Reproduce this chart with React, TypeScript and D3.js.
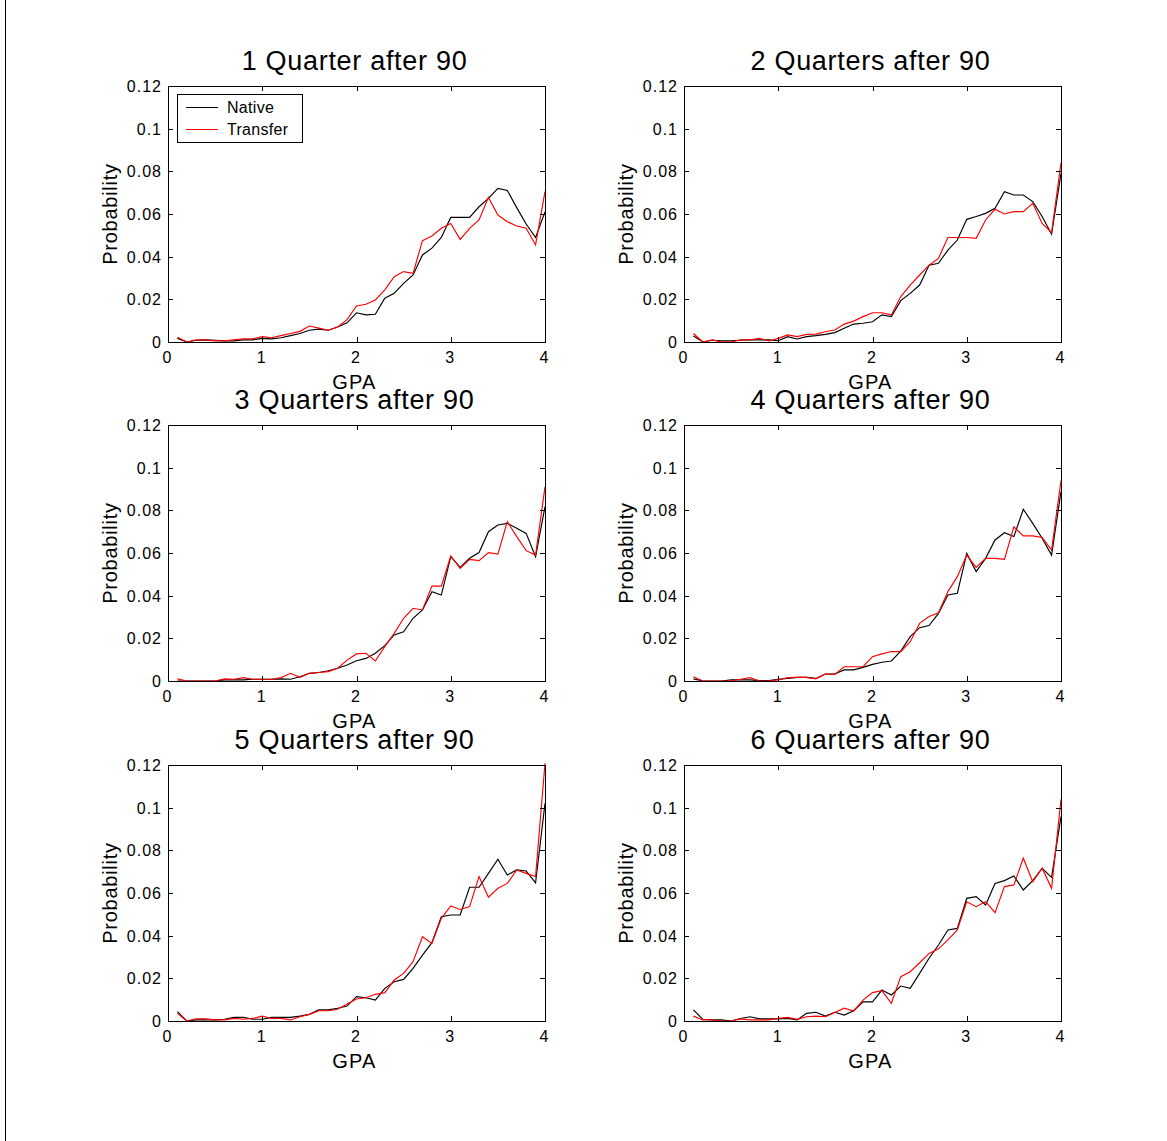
import React from "react";
import * as d3 from "d3";

const GPA = [0.1,0.2,0.3,0.4,0.5,0.6,0.7,0.8,0.9,1.0,1.1,1.2,1.3,1.4,1.5,1.6,1.7,1.8,1.9,2.0,2.1,2.2,2.3,2.4,2.5,2.6,2.7,2.8,2.9,3.0,3.1,3.2,3.3,3.4,3.5,3.6,3.7,3.8,3.9,4.0];

const titles = ["1 Quarter after 90","2 Quarters after 90","3 Quarters after 90","4 Quarters after 90","5 Quarters after 90","6 Quarters after 90"];

const native1 = [0.0017,0,0.0008,0.001,0.0008,0.0005,0.0005,0.001,0.001,0.0017,0.0015,0.002,0.003,0.004,0.0055,0.006,0.0055,0.007,0.009,0.0137,0.0127,0.013,0.0205,0.0228,0.0275,0.0314,0.0408,0.044,0.049,0.0584,0.0584,0.0584,0.0634,0.0673,0.072,0.071,0.063,0.0553,0.049,0.061];
const transfer1 = [0.0022,0,0.001,0.001,0.0005,0.0005,0.001,0.0015,0.0015,0.0025,0.002,0.003,0.004,0.005,0.0075,0.0065,0.0055,0.007,0.0105,0.0169,0.0177,0.0197,0.0244,0.0306,0.033,0.0322,0.0475,0.0497,0.0533,0.0556,0.0481,0.0533,0.0572,0.0678,0.0595,0.0564,0.0544,0.0533,0.0455,0.0705];

const native2 = [0.0028,0,0.0008,0.0005,0.0005,0.0008,0.001,0.001,0.001,0.0006,0.0025,0.0014,0.0025,0.003,0.0036,0.0044,0.0064,0.0084,0.0088,0.0095,0.0127,0.0119,0.0194,0.0228,0.0267,0.036,0.0369,0.0431,0.0478,0.0575,0.0588,0.0603,0.0627,0.0705,0.0689,0.0689,0.0658,0.0588,0.0505,0.079];
const transfer2 = [0.004,0,0.001,0,0,0.001,0.001,0.0017,0.0005,0.0017,0.0033,0.0025,0.0036,0.0037,0.0048,0.0056,0.0084,0.0098,0.0119,0.0137,0.0137,0.0127,0.0213,0.0267,0.0314,0.036,0.0392,0.049,0.049,0.049,0.0486,0.0572,0.0622,0.06,0.0611,0.0611,0.065,0.0556,0.0513,0.084];

const native3 = [0,0,0,0,0,0.0005,0.0005,0.0005,0.0008,0.0008,0.0008,0.001,0.0008,0.002,0.0036,0.004,0.0048,0.006,0.0075,0.0095,0.0106,0.013,0.0166,0.0216,0.0231,0.0294,0.0333,0.0419,0.0403,0.0583,0.0533,0.0575,0.0602,0.07,0.0731,0.0739,0.0716,0.0692,0.0583,0.0817];
const transfer3 = [0.001,0,0,0,0,0.001,0.0008,0.0016,0.0008,0.0008,0.0008,0.0016,0.0036,0.0017,0.0036,0.004,0.0044,0.006,0.0098,0.0127,0.013,0.0094,0.0161,0.0223,0.0294,0.0341,0.0333,0.0445,0.0445,0.0586,0.0528,0.057,0.0564,0.0602,0.0595,0.0747,0.0677,0.0611,0.059,0.091];

const native4 = [0.001,0,0,0,0.0005,0.0005,0.0005,0.0002,0.0002,0.0008,0.0012,0.0017,0.0017,0.0012,0.0033,0.0033,0.0052,0.0052,0.0064,0.0078,0.0088,0.0094,0.014,0.0208,0.025,0.026,0.0317,0.0403,0.0411,0.0598,0.0513,0.0575,0.0661,0.0695,0.0677,0.0805,0.0739,0.0669,0.059,0.0888];
const transfer4 = [0.002,0,0,0,0,0.0008,0.0016,0,0,0.0005,0.0016,0.0017,0.0017,0.001,0.0033,0.0031,0.0067,0.0067,0.0067,0.0114,0.0127,0.0138,0.0138,0.0184,0.027,0.0302,0.032,0.0419,0.0489,0.059,0.0533,0.0575,0.0575,0.057,0.0723,0.068,0.068,0.0673,0.0614,0.094];

const native5 = [0.0044,0,0.0005,0.0005,0.0005,0.0008,0.0017,0.0017,0.0008,0.0008,0.0017,0.0017,0.0017,0.0023,0.0031,0.0052,0.0052,0.006,0.007,0.0114,0.0109,0.0098,0.0153,0.0184,0.0195,0.0247,0.0309,0.0367,0.0489,0.0497,0.0497,0.0627,0.0627,0.0692,0.0758,0.0684,0.0708,0.0703,0.0648,0.102];
const transfer5 = [0.0036,0,0.001,0.001,0.0005,0.0005,0.0012,0.0008,0.0012,0.0023,0.0012,0.0012,0.0005,0.002,0.0031,0.0048,0.0048,0.0055,0.008,0.0103,0.0109,0.0125,0.0133,0.0192,0.0223,0.0278,0.0395,0.0364,0.0481,0.0539,0.0523,0.0536,0.0677,0.058,0.0622,0.0645,0.0708,0.0692,0.0677,0.1208];

const native6 = [0.0052,0.0008,0.0005,0.0005,0,0.0012,0.002,0.001,0.001,0.001,0.0012,0.0005,0.0036,0.0041,0.0023,0.0041,0.0028,0.0048,0.009,0.009,0.0145,0.0122,0.0164,0.0153,0.0223,0.0294,0.0356,0.0427,0.0434,0.0575,0.0583,0.0544,0.0645,0.0658,0.068,0.0614,0.0658,0.0716,0.0673,0.0958];
const transfer6 = [0.0023,0.0005,0.0005,0,0,0.001,0.0005,0.0005,0.0005,0.0012,0.0017,0.0008,0.002,0.0023,0.002,0.004,0.006,0.0047,0.0098,0.0133,0.0142,0.0083,0.0208,0.0231,0.0273,0.0317,0.0338,0.038,0.0427,0.0559,0.0536,0.0559,0.0508,0.063,0.0638,0.0763,0.0653,0.0716,0.0622,0.1039];

const xTicks = [0, 1, 2, 3, 4];
const yTicks = [0, 0.02, 0.04, 0.06, 0.08, 0.1, 0.12];
const yTickLabels = ["0", "0.02", "0.04", "0.06", "0.08", "0.1", "0.12"];
const legendLabels = ["Native", "Transfer"];

const nativeSeries = [native1, native2, native3, native4, native5, native6];
const transferSeries = [transfer1, transfer2, transfer3, transfer4, transfer5, transfer6];

const FONT = "'Liberation Sans', Arial, Helvetica, sans-serif";
const colLeft = [168, 684];
const rowTop = [86, 425, 765];
const W = 377;
const H = 256;
const TICK = 5;

function Panel({ idx }: { idx: number }) {
  const left = colLeft[idx % 2];
  const top = rowTop[Math.floor(idx / 2)];
  const x = d3.scaleLinear().domain([0, 4]).range([left, left + W]);
  const y = d3.scaleLinear().domain([0, 0.12]).range([top + H, top]);
  const line = d3
    .line<number>()
    .x((_, i) => x(GPA[i]))
    .y((d) => y(d));
  const cx = left + W / 2 - 2;
  return (
    <g>
      <text x={cx} y={top - 16} textAnchor="middle" fontSize={27} letterSpacing={0.7} fontFamily={FONT} fill="#000">
        {titles[idx]}
      </text>
      <path d={line(nativeSeries[idx]) || ""} fill="none" stroke="#000" strokeWidth={1.15} />
      <path d={line(transferSeries[idx]) || ""} fill="none" stroke="#ff0000" strokeWidth={1.15} />
      <rect x={left + 0.5} y={top + 0.5} width={W} height={H} fill="none" stroke="#000" strokeWidth={1} />
      {xTicks.map((t) => (
        <g key={"x" + t}>
          <line x1={Math.round(x(t)) + 0.5} x2={Math.round(x(t)) + 0.5} y1={top + H} y2={top + H - TICK} stroke="#000" />
          <line x1={Math.round(x(t)) + 0.5} x2={Math.round(x(t)) + 0.5} y1={top} y2={top + TICK} stroke="#000" />
          <text x={x(t) - 1} y={top + H + 21} textAnchor="middle" fontSize={16} fontFamily={FONT} fill="#000">
            {t}
          </text>
        </g>
      ))}
      {yTicks.map((t, i) => (
        <g key={"y" + t}>
          <line x1={left} x2={left + TICK} y1={Math.round(y(t)) + 0.5} y2={Math.round(y(t)) + 0.5} stroke="#000" />
          <line x1={left + W} x2={left + W - TICK} y1={Math.round(y(t)) + 0.5} y2={Math.round(y(t)) + 0.5} stroke="#000" />
          <text x={left - 6} y={y(t) + 6} textAnchor="end" fontSize={16} letterSpacing={1} fontFamily={FONT} fill="#000">
            {yTickLabels[i]}
          </text>
        </g>
      ))}
      <text
        transform={`translate(${left - 51},${top + H / 2}) rotate(-90)`}
        textAnchor="middle"
        fontSize={20}
        letterSpacing={0.75}
        fontFamily={FONT}
        fill="#000"
      >
        Probability
      </text>
      <text x={cx} y={top + H + 47} textAnchor="middle" fontSize={20} letterSpacing={1.2} fontFamily={FONT} fill="#000">
        GPA
      </text>
      {idx === 0 && (
        <g>
          <rect x={177.5} y={94.5} width={125} height={48} fill="#fff" stroke="#000" />
          <line x1={186} x2={218} y1={107.5} y2={107.5} stroke="#000" />
          <line x1={186} x2={218} y1={129.5} y2={129.5} stroke="#ff0000" />
          <text x={227} y={113} fontSize={16} letterSpacing={0.3} fontFamily={FONT} fill="#000">{legendLabels[0]}</text>
          <text x={227} y={135} fontSize={16} letterSpacing={0.3} fontFamily={FONT} fill="#000">{legendLabels[1]}</text>
        </g>
      )}
    </g>
  );
}

export default function App() {
  return (
    <div style={{ position: "absolute", left: 0, top: 0 }}>
      <svg width={1167} height={1141} style={{ display: "block", background: "#fff" }}>
        <rect x={0} y={0} width={1167} height={1141} fill="#fff" />
        <line x1={5.5} x2={5.5} y1={0} y2={1141} stroke="#000" />
        {titles.map((_, i) => (
          <Panel key={i} idx={i} />
        ))}
      </svg>
    </div>
  );
}
